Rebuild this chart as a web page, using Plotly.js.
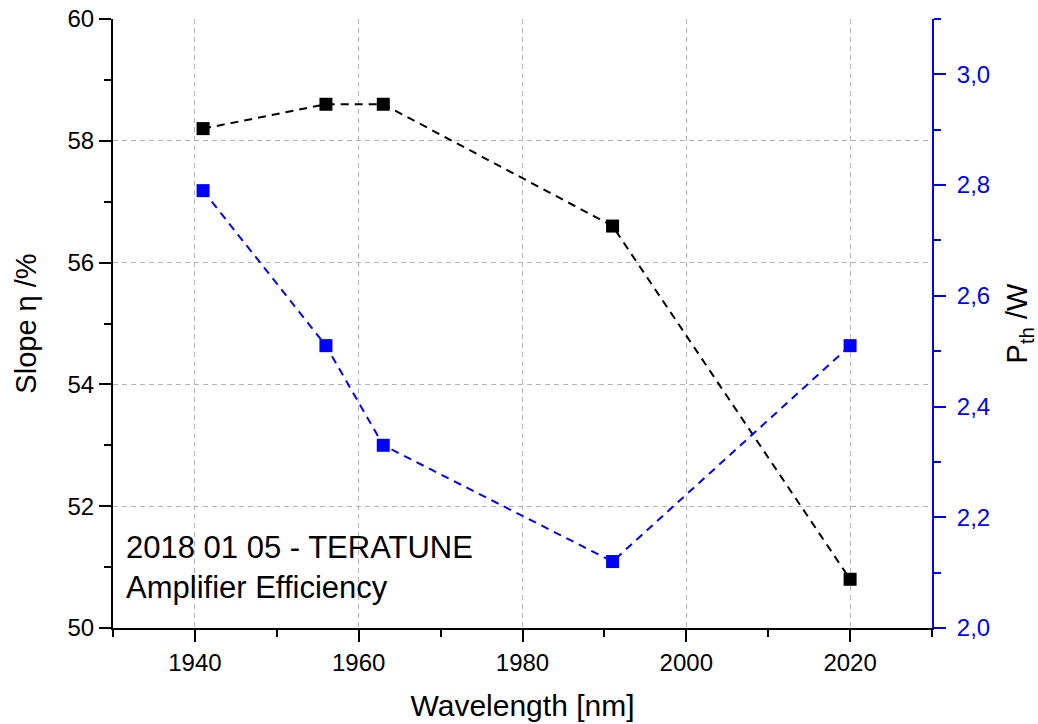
<!DOCTYPE html>
<html>
<head>
<meta charset="utf-8">
<script src="https://cdn.plot.ly/plotly-3.0.1.min.js"></script>
<style>html,body{margin:0;padding:0;background:#fff;}#chart{width:1038px;height:724px;}</style>
</head>
<body>
<div id="chart"></div>
<script>
// Data
const wavelength = [1941, 1956, 1963, 1991, 2020];
const slopeEff = [58.2, 58.6, 58.6, 56.6, 50.8];
const thresholdPower = [2.79, 2.51, 2.33, 2.12, 2.51];
const xTitle = 'Wavelength [nm]';
const yTitle = 'Slope \u03b7 /%';
const y2Title = 'P<sub>th</sub> /W';
const noteText = '2018 01 05 - TERATUNE<br>Amplifier Efficiency';

const FONT = 'Liberation Sans, Arial, Helvetica, sans-serif';
const BLUE = '#0000ff';

const traces = [
  {
    x: wavelength, y: slopeEff, type: 'scatter', mode: 'lines+markers',
    xaxis: 'x', yaxis: 'y',
    line: {color: '#000', width: 2, dash: '8px,6px'},
    marker: {symbol: 'square', size: 13, color: '#000'},
    showlegend: false, cliponaxis: false
  },
  {
    x: wavelength, y: thresholdPower, type: 'scatter', mode: 'lines+markers',
    xaxis: 'x', yaxis: 'y2',
    line: {color: BLUE, width: 2, dash: '8px,6px'},
    marker: {symbol: 'square', size: 13, color: BLUE},
    showlegend: false, cliponaxis: false
  }
];

const gridStyle = {showgrid: true, gridcolor: '#b4b4b4', gridwidth: 1, griddash: '5px,4px'};

const layout = {
  width: 1038, height: 724,
  margin: {l: 113, r: 106, t: 19, b: 96, pad: 0},
  paper_bgcolor: '#fff', plot_bgcolor: '#fff',
  font: {family: FONT, size: 24, color: '#000'},
  separators: ',.',
  showlegend: false,
  xaxis: Object.assign({
    range: [1930, 2030], dtick: 20, tick0: 1940,
    ticks: 'outside', ticklen: 12, tickwidth: 2, tickcolor: '#000',
    minor: {dtick: 10, tick0: 1930, ticks: 'outside', ticklen: 7, tickwidth: 2, tickcolor: '#000', showgrid: false},
    showline: true, linecolor: '#000', linewidth: 2,
    zeroline: false,
    tickfont: {size: 24, family: FONT, color: '#000'},
    title: {text: xTitle, font: {size: 30, family: FONT, color: '#000'}, standoff: 20}
  }, gridStyle),
  xaxis2: {
    overlaying: 'x', side: 'top', anchor: 'y',
    range: [1930, 2030], dtick: 20, tick0: 1940,
    ticks: 'inside', ticklen: 8, tickwidth: 2, tickcolor: '#000',
    minor: {dtick: 10, tick0: 1930, ticks: 'inside', ticklen: 5, tickwidth: 2, tickcolor: '#000', showgrid: false},
    showticklabels: false, showgrid: false, zeroline: false,
    showline: true, linecolor: '#000', linewidth: 2
  },
  yaxis: Object.assign({
    range: [50, 60], dtick: 2, tick0: 50,
    ticks: 'outside', ticklen: 12, tickwidth: 2, tickcolor: '#000',
    minor: {dtick: 1, ticks: 'outside', ticklen: 7, tickwidth: 2, tickcolor: '#000', showgrid: false},
    showline: true, linecolor: '#000', linewidth: 2,
    zeroline: false,
    tickfont: {size: 24, family: FONT, color: '#000'},
    title: {text: yTitle, font: {size: 29, family: FONT, color: '#000'}, standoff: 22}
  }, gridStyle),
  yaxis2: {
    overlaying: 'y', side: 'right', anchor: 'x',
    range: [2, 3.1], dtick: 0.2, tick0: 2, tickformat: '.1f',
    ticks: 'outside', ticklen: 12, tickwidth: 2, tickcolor: BLUE,
    minor: {dtick: 0.1, tick0: 2, ticks: 'outside', ticklen: 7, tickwidth: 2, tickcolor: BLUE, showgrid: false},
    showline: true, linecolor: BLUE, linewidth: 2,
    showgrid: false, zeroline: false,
    ticklabelstandoff: 6,
    tickfont: {size: 24, family: FONT, color: BLUE},
    title: {text: y2Title, font: {size: 29, family: FONT, color: '#000'}, standoff: 18}
  },
  annotations: [{
    xref: 'paper', yref: 'paper', x: 0.013, y: 0.1,
    xanchor: 'left', yanchor: 'middle', align: 'left',
    text: noteText, showarrow: false,
    font: {size: 31, family: FONT, color: '#000'}
  }]
};

Plotly.newPlot('chart', traces, layout, {displayModeBar: false, staticPlot: true});
</script>
</body>
</html>
